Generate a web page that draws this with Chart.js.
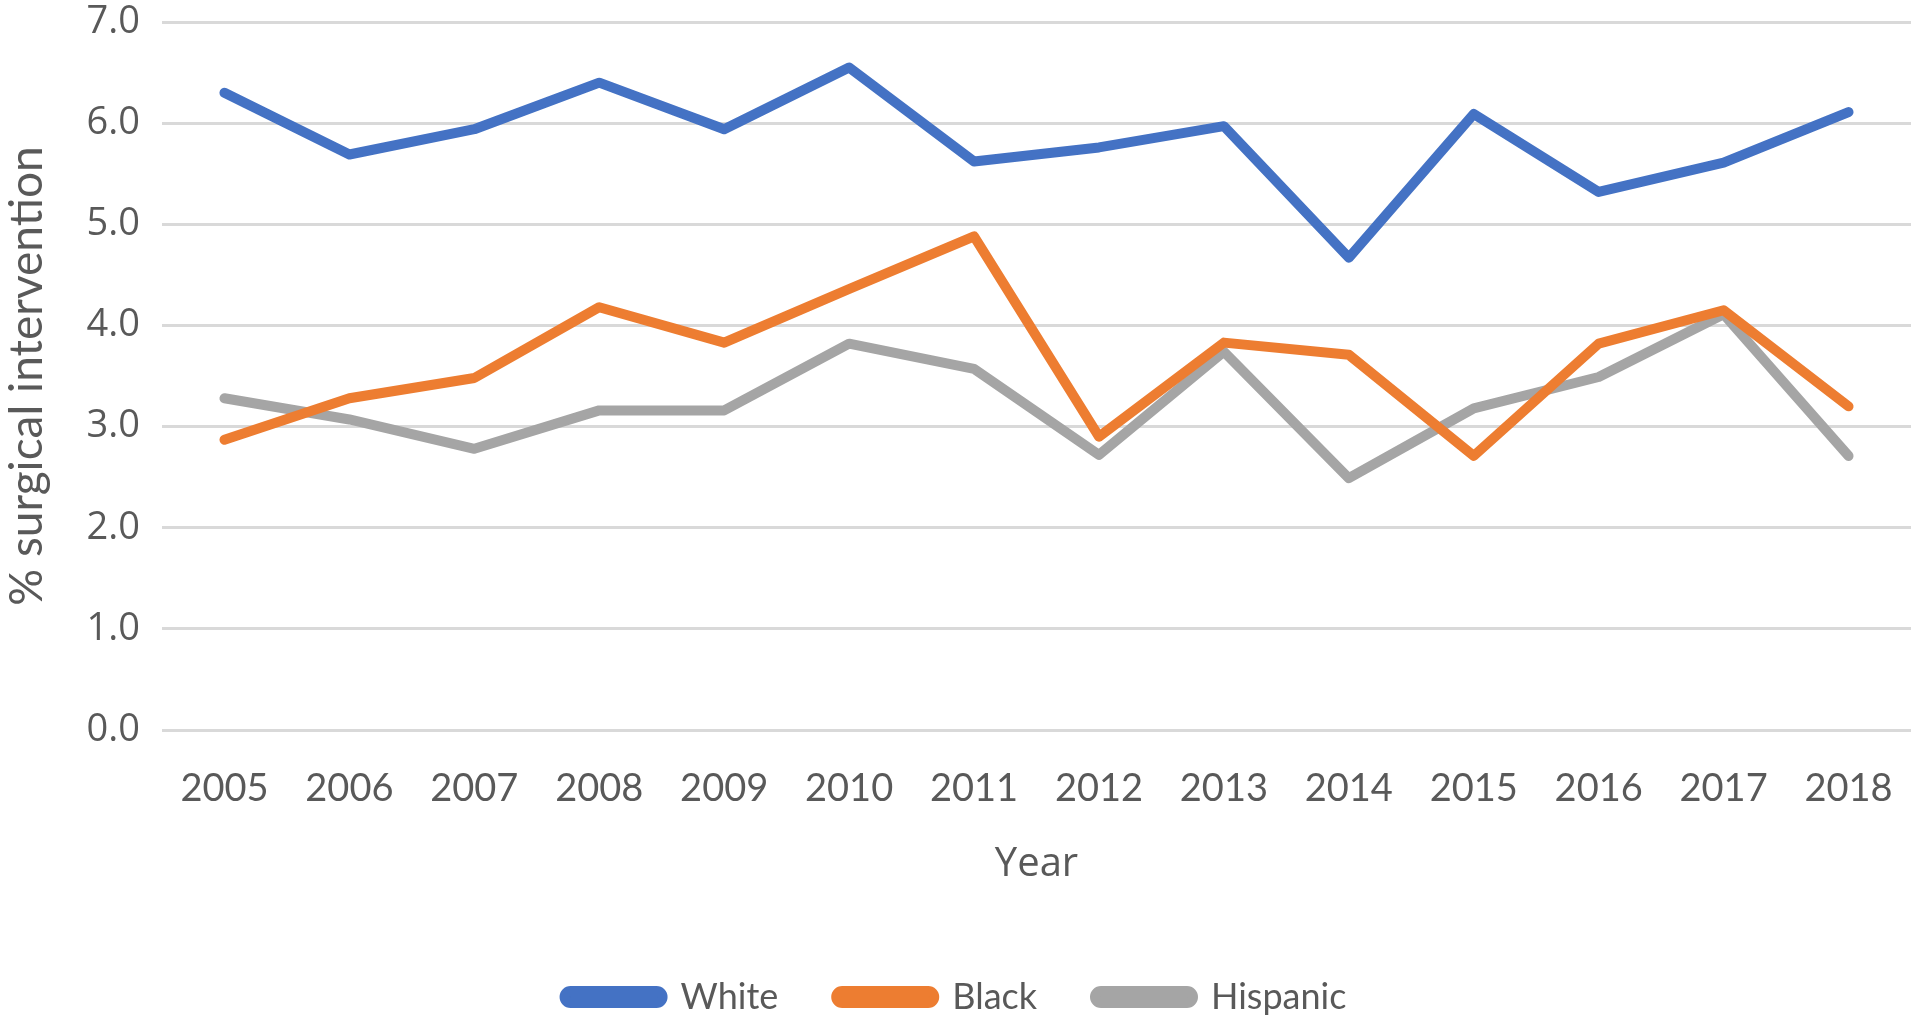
<!DOCTYPE html>
<html>
<head>
<meta charset="utf-8">
<script src="https://cdn.jsdelivr.net/npm/chart.js@4/dist/chart.umd.min.js"></script>
<style>
  html, body { margin: 0; padding: 0; background: #fff; }
  #wrap { width: 1920px; height: 1022px; }
</style>
</head>
<body>
<div id="wrap"><canvas id="myChart" width="1920" height="1022"></canvas></div>
<script>
// years on the x axis
const years = ['2005', '2006', '2007', '2008', '2009', '2010', '2011',
               '2012', '2013', '2014', '2015', '2016', '2017', '2018'];

// % surgical intervention
const white    = [6.30, 5.69, 5.94, 6.40, 5.94, 6.55, 5.62, 5.76, 5.97, 4.67, 6.09, 5.32, 5.61, 6.11];
const black    = [2.87, 3.28, 3.48, 4.18, 3.83, 4.36, 4.88, 2.90, 3.83, 3.71, 2.71, 3.82, 4.15, 3.20];
const hispanic = [3.28, 3.07, 2.78, 3.16, 3.16, 3.82, 3.57, 2.72, 3.74, 2.49, 3.18, 3.49, 4.11, 2.71];

const yTicks = [0, 1, 2, 3, 4, 5, 6, 7];

const textColor = '#595959';

function line(label, data, color)
{
    return {
        label: label,
        data: data,
        borderColor: color,
        backgroundColor: color,
        borderWidth: 10,
        borderCapStyle: 'round',
        borderJoinStyle: 'round',
        pointRadius: 0,
        pointHoverRadius: 0,
        tension: 0,
        fill: false
    };
}

const ctx = document.getElementById('myChart');
const myChart = new Chart(ctx, {
    type: 'line',
    data: {
        labels: years,
        datasets: [
            line('White', white, '#4472C4'),
            line('Black', black, '#ED7D31'),
            line('Hispanic', hispanic, '#A5A5A5')
        ]
    },
    options: {
        responsive: false,
        animation: false,
        layout: {
            padding: { top: 22, right: 9, bottom: 0, left: 0 }
        },
        plugins: {
            tooltip: { enabled: false },
            legend: {
                position: 'bottom',
                maxHeight: 101,
                labels: {
                    color: textColor,
                    font: { family: 'Lato', size: 36 },
                    boxWidth: 98,
                    boxHeight: 12,
                    useBorderRadius: true,
                    borderRadius: 6,
                    padding: 58
                }
            }
        },
        scales: {
            x: {
                offset: true,
                grid: { display: false, drawTicks: false },
                border: { display: false },
                ticks: {
                    color: textColor,
                    font: { family: 'Lato', size: 38 },
                    padding: 36,
                    maxRotation: 0,
                    autoSkip: false
                },
                title: {
                    display: true,
                    text: 'Year',
                    color: textColor,
                    font: { family: 'Open Sans', size: 40 },
                    padding: { top: 0, bottom: 32 }
                },
                afterFit: function (scale) {
                    scale.height = 191;
                    scale.paddingLeft = 0;
                    scale.paddingRight = 0;
                }
            },
            y: {
                min: 0,
                max: 7,
                afterBuildTicks: function (scale) {
                    scale.ticks = yTicks.map(v => ({ value: v }));
                },
                grid: { color: '#D9D9D9', lineWidth: 3, drawTicks: false },
                border: { display: false },
                ticks: {
                    color: textColor,
                    font: { family: 'Open Sans', size: 38 },
                    padding: 22,
                    callback: v => v.toFixed(1)
                },
                title: {
                    display: true,
                    text: '% surgical intervention',
                    color: textColor,
                    font: { family: 'Lato', size: 46 },
                    padding: { top: 0, bottom: 0 }
                },
                afterFit: function (scale) {
                    scale.width = 162;
                    scale.paddingTop = 0;
                    scale.paddingBottom = 0;
                }
            }
        }
    }
});
</script>
</body>
</html>
